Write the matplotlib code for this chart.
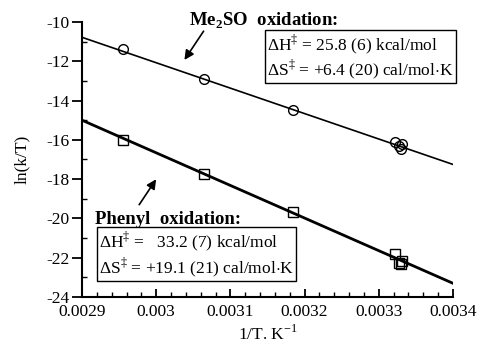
import matplotlib
matplotlib.use("Agg")
import matplotlib.pyplot as plt
from matplotlib.ticker import MultipleLocator, FuncFormatter
import numpy as np

plt.rcParams['font.family'] = ['Liberation Serif', 'DejaVu Serif']
plt.rcParams['mathtext.fontset'] = 'custom'
plt.rcParams['mathtext.rm'] = 'Liberation Serif'
plt.rcParams['mathtext.bf'] = 'Liberation Serif:bold'

# Me2SO oxidation data
x_me2so = [0.002955, 0.003065, 0.003185, 0.003322, 0.003327, 0.00333, 0.003332]
y_me2so = [-11.4, -12.9, -14.5, -16.1, -16.3, -16.45, -16.2]
fit_me2so = [-10.78, -17.25]   # at x = 0.0029 and 0.0034

# Phenyl oxidation data
x_phenyl = [0.002955, 0.003065, 0.003185, 0.003322, 0.003327, 0.00333, 0.003332]
y_phenyl = [-16.0, -17.75, -19.65, -21.8, -22.25, -22.3, -22.15]
fit_phenyl = [-15.0, -23.3]
fit_x = [0.0029, 0.0034]

fig = plt.figure(figsize=(4.81, 3.49), dpi=100)
ax = fig.add_axes([0.1705, 0.149, 0.771, 0.788])

ax.plot(fit_x, fit_me2so, color='black', lw=1.2)
ax.plot(fit_x, fit_phenyl, color='black', lw=2.0)
ax.plot(x_me2so, y_me2so, 'o', mfc='none', mec='black', ms=7, mew=1.0)
ax.plot(x_phenyl, y_phenyl, 's', mfc='none', mec='black', ms=7, mew=1.0)

ax.set_xlim(0.0029, 0.0034)
ax.set_ylim(-24, -10)
ax.xaxis.set_major_locator(MultipleLocator(0.0001))
ax.xaxis.set_minor_locator(MultipleLocator(0.00002))
ax.yaxis.set_major_locator(MultipleLocator(2))
ax.yaxis.set_minor_locator(MultipleLocator(1))
ax.xaxis.set_major_formatter(FuncFormatter(lambda v, p: ('%.4f' % v).rstrip('0')))
ax.yaxis.set_major_formatter(FuncFormatter(lambda v, p: '%d' % v))

for s in ['top', 'right']:
    ax.spines[s].set_visible(False)
for s in ['left', 'bottom']:
    ax.spines[s].set_linewidth(1.5)
ax.tick_params(axis='y', which='major', direction='out', length=7, width=1.3, labelsize=12.5, pad=2)
ax.tick_params(axis='x', which='major', direction='in', length=6, width=1.3, labelsize=12.5, pad=5)
ax.tick_params(which='minor', direction='in', length=3.5, width=1.0)

ax.set_ylabel('ln(k/T)', fontsize=12.5, labelpad=12)
ax.set_xlabel('1/T. K$^{-1}$', fontsize=12.5, labelpad=3)

ax.text(0.003044, -9.95, r'Me$_\mathbf{2}$SO  oxidation:', fontsize=13.5, fontweight='bold',
        ha='left', va='center')
ax.annotate('', xy=(0.003036, -12.05), xytext=(0.003066, -10.35),
            arrowprops=dict(arrowstyle='-|>', color='black', lw=1.2, mutation_scale=14))
ax.text(0.003150, -11.76,
        '$\\Delta$H$^{\\ddagger}$ = 25.8 (6) kcal/mol\n$\\Delta$S$^{\\ddagger}$ = +6.4 (20) cal/mol$\\cdot$K',
        fontsize=12.5, ha='left', va='center', linespacing=1.1,
        bbox=dict(boxstyle='square,pad=0.12', fc='white', ec='black', lw=1.0))

ax.text(0.002918, -20.05, 'Phenyl  oxidation:', fontsize=13.5, fontweight='bold',
        ha='left', va='center')
ax.annotate('', xy=(0.003002, -17.89), xytext=(0.002975, -19.42),
            arrowprops=dict(arrowstyle='-|>', color='black', lw=1.2, mutation_scale=14))
ax.text(0.002923, -21.81,
        '$\\Delta$H$^{\\ddagger}$ =   33.2 (7) kcal/mol\n$\\Delta$S$^{\\ddagger}$ = +19.1 (21) cal/mol$\\cdot$K',
        fontsize=12.5, ha='left', va='center', linespacing=1.1,
        bbox=dict(boxstyle='square,pad=0.12', fc='white', ec='black', lw=1.0))

fig.savefig('out.png', dpi=100)
